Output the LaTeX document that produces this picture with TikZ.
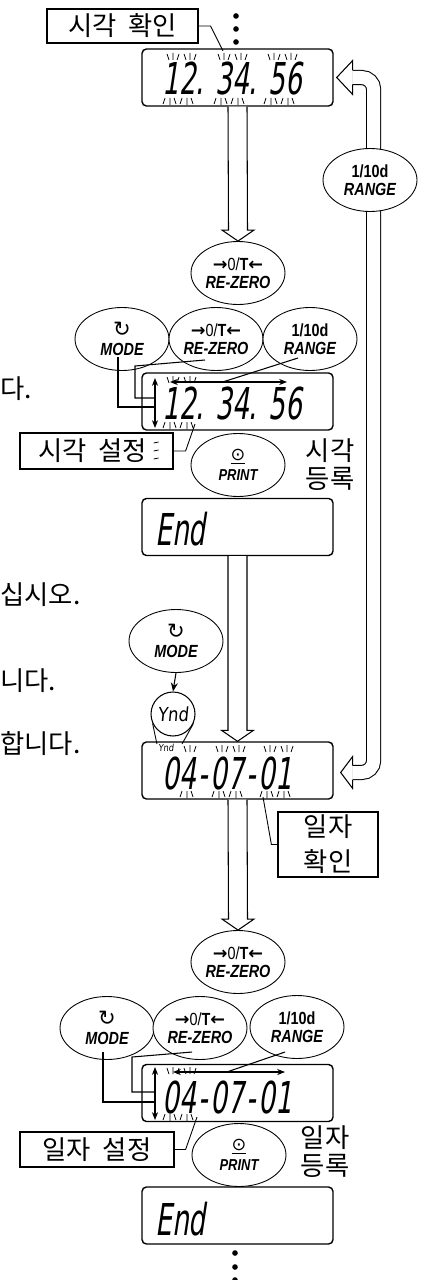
\documentclass[tikz,border=0pt]{standalone}
\usepackage{fontspec}
\setmainfont{Noto Sans CJK KR}
\newfontfamily\keyfont[FakeStretch=0.82]{Liberation Sans}
\newfontfamily\lcdfont[FakeSlant=0.15,FakeStretch=0.6]{DejaVu Sans}
\newfontfamily\lcdsmall[FakeSlant=0.1,FakeStretch=0.85]{DejaVu Sans}
\newfontfamily\symfont{DejaVu Sans}
\usetikzlibrary{shapes.geometric, arrows.meta, positioning, calc}
\tikzset{
    lcd/.style={
        draw,
        fill=white,
        rounded corners=2.5pt,
        line width=0.8pt,
        minimum width=3.82cm,
        minimum height=1.14cm,
        inner sep=0pt
    },
    lcdtext/.style={
        font=\lcdfont\fontsize{25}{25}\selectfont,
        inner sep=0pt,
        anchor=west
    },
    keybtn/.style={
        ellipse,
        draw,
        fill=white,
        line width=0.5pt,
        minimum width=1.88cm,
        minimum height=1.26cm,
        inner sep=0pt,
        align=center,
        font=\keyfont\fontsize{10}{10.5}\selectfont\bfseries\itshape
    },
    tagbox/.style={
        draw,
        line width=0.7pt,
        inner sep=0pt,
        align=center,
        font=\fontsize{15}{16}\selectfont
    },
    note/.style={
        inner sep=0pt,
        align=center,
        font=\fontsize{15}{16}\selectfont
    },
    cutoff/.style={
        inner sep=0pt,
        anchor=west,
        font=\fontsize{15}{16}\selectfont
    },
    wire/.style={line width=0.6pt},
    dblhead/.style={
        wire,
        {Stealth[length=4.5pt,width=3.5pt]}-{Stealth[length=4.5pt,width=3.5pt]}
    },
    leader/.style={line width=0.5pt},
    hollow/.style={line width=0.6pt, fill=white},
    hollowline/.style={
        line width=0.6pt,
        double=white,
        double distance=0.26cm,
        rounded corners=0.24cm
    },
    blink/.style={line width=0.45pt}
}
\newcommand\blinkmarks[3]{%
    \foreach \bx in {#1} {
        \draw[blink] (\bx-3,#2) -- ++(2,6) (\bx+3,#2-1) -- ++(0,7) (\bx+9,#2) -- ++(-2,6);
        \draw[blink] (\bx-7,#3) -- ++(2,-6) (\bx,#3+1) -- ++(0,-7) (\bx+6,#3) -- ++(-2,-6);
    }}
\newcommand\zerokey{{\upshape\fontsize{10}{10}\selectfont{\symfont\bfseries →}{\mdseries 0/}T{\symfont\bfseries ←}}\\RE-ZERO}
\newcommand\modekey{{\upshape\mdseries\symfont\fontsize{12}{11}\selectfont ↻}\\MODE}
\newcommand\rangekey{{\upshape 1/10d}\\RANGE}
\newcommand\printkey{{\upshape\mdseries\symfont\fontsize{10}{10}\selectfont\underline{⊙}}\\[1pt]{\fontsize{9}{9}\selectfont PRINT}}
\newcommand\wsp{\hspace{0.45em}}
\begin{document}
\begin{tikzpicture}[x=0.02cm, y=-0.02cm]
        \useasboundingbox (0,0) rectangle (427,1280);

        % Text of the neighbouring column
        \node[cutoff] (c1) at (0,389) {다.};
        \node[cutoff] (c2) at (0,595) {십시오.};
        \node[cutoff] (c3) at (0,681) {니다.};
        \node[cutoff] (c4) at (0,744) {합니다.};

        % Displays
        \node[lcd] (d1) at (237.5,77.5) {};
        \node[lcd] (d2) at (237.5,401.5) {};
        \node[lcd] (end1) at (237.5,527) {};
        \node[lcd] (d3) at (237.5,770.5) {};
        \node[lcd] (d4) at (237.5,1093) {};
        \node[lcd] (end2) at (237.5,1215.5) {};
        \node[lcdtext] (d1num) at (162,79) {12. 34. 56};
        \node[lcdtext] (d2num) at (162,404) {12. 34. 56};
        \node[lcdtext] (end1txt) at (155,529) {End};
        \node[lcdtext] (d3num) at (162,773.5) {04\kern1.5pt-\kern1.5pt07\kern1.5pt-\kern1.5pt01};
        \node[lcdtext] (d4num) at (162,1097.5) {04\kern1.5pt-\kern1.5pt07\kern1.5pt-\kern1.5pt01};
        \node[lcdtext] (end2txt) at (155,1219) {End};

        % Blinking digits
        \blinkmarks{170,187,221,238,271,288}{54}{104}
        \blinkmarks{170,187}{377}{428}
        \blinkmarks{187,219,236,267,284}{746}{797}
        \blinkmarks{170,187}{1068}{1120}

        % Continuation dots
        \foreach \dy in {16,29,42} \fill (236,\dy) circle (1.6pt);
        \foreach \dy in {1253,1267,1280} \fill (235,\dy) circle (1.6pt);

        % Return arrow (RANGE)
        \coordinate (r1) at ($(d1.east)+(3,0)$);
        \coordinate (r3) at ($(d3.east)+(7,2)$);
        \draw[hollowline] ($(r1)+(16,0)$) -- ($(r1)+(37,0)$) -- ($(r3)+(33,0)$) -- ($(r3)+(12,0)$);
        \draw[hollow] ($(r1)+(16,-7)$) -- ($(r1)+(16,-17)$) -- (r1) -- ($(r1)+(16,17)$) -- ($(r1)+(16,7)$);
        \draw[hollow] ($(r3)+(12,-7)$) -- ($(r3)+(12,-16)$) -- (r3) -- ($(r3)+(12,16)$) -- ($(r3)+(12,7)$);
        \node[keybtn] (rg1) at (370,180) {\rangekey};

        % Time check
        \node[tagbox, minimum width=3.02cm, minimum height=0.68cm] (tk) at (122.5,26) {시각\wsp 확인};
        \coordinate (tkend) at (223,51);
        \draw[leader] (tk.east) -- ++(12,0) -- (tkend);

        % Keys
        \node[keybtn] (rz1) at (238,273) {\zerokey};
        \node[keybtn] (md2) at (122,339) {\modekey};
        \node[keybtn] (rz2) at (216,339) {\zerokey};
        \node[keybtn] (rg2) at (310,339) {\rangekey};
        \node[keybtn] (pr1) at (238,465) {\printkey};

        % Time setting
        \coordinate (v2top) at (155,378);
        \coordinate (v2bot) at (155,428);
        \coordinate (h2left) at (170,382);
        \coordinate (h2right) at (287,382);
        \coordinate (m2) at (155,407);
        \coordinate (z2) at (155,398);
        \draw[dblhead] (v2top) -- (v2bot);
        \draw[dblhead] (h2left) -- (h2right);
        \draw[wire] ($(md2.center)+(-4,18)$) |- (m2);
        \draw[wire] ($(rz2.center)+(-11,21)$) -- ++(-70,6) |- (z2);
        \draw[wire] ($(rg2.center)+(-12,19)$) -- ($(h2left)!0.45!(h2right)$);

        \node[tagbox, minimum width=3.06cm, minimum height=0.72cm] (ts) at (96.5,451) {시각\wsp 설정\hspace{0.16cm}};
        \foreach \my in {-8,0,8} \draw[blink] ($(ts.east)+(-20,\my)$) -- ++(5,-1);
        \coordinate (tsend) at (195,424);
        \draw[leader] (ts.east) -- ++(12,0) -- (tsend);
        \node[note] (tr) at (330,465) {시각\\등록};

        % Date check
        \node[keybtn] (md3) at (176,641) {\modekey};
        \node[draw, circle, line width=0.6pt, minimum size=0.88cm, inner sep=0pt, font=\lcdsmall\fontsize{11}{11}\selectfont] (ynd) at (173,714) {Ynd};
        \node[inner sep=0pt, font=\lcdsmall\fontsize{5.5}{5.5}\selectfont] (ynds) at (166,748) {Ynd};
        \draw[wire, -{Stealth[length=5pt,width=4pt]}] (md3.south) -- (ynd.north);
        \draw[leader] (ynd.205) -- ($(ynds.north west)+(-1,0)$);
        \draw[leader] (ynd.335) -- ($(ynds.north east)+(8,0)$);

        \node[tagbox, minimum width=2.0cm, minimum height=1.3cm, font=\fontsize{15}{20}\selectfont] (dk) at (328,844.5) {일자\\확인};
        \coordinate (dkend) at (263,797);
        \draw[leader] (dk.west) -- ++(-6,0) -- (dkend);

        % Date setting
        \node[keybtn] (rz3) at (238,962) {\zerokey};
        \node[keybtn] (md4) at (107,1028) {\modekey};
        \node[keybtn] (rz4) at (200,1028) {\zerokey};
        \node[keybtn] (rg4) at (297,1027) {\rangekey};
        \node[keybtn] (pr2) at (239,1155) {\printkey};

        \coordinate (v4top) at (155,1067);
        \coordinate (v4bot) at (155,1120);
        \coordinate (h4left) at (173,1072);
        \coordinate (h4right) at (285,1072);
        \coordinate (m4) at (155,1102);
        \coordinate (z4) at (155,1092);
        \draw[dblhead] (v4top) -- (v4bot);
        \draw[dblhead] (h4left) -- (h4right);
        \draw[wire] ($(md4.center)+(-4,24)$) |- (m4);
        \draw[wire] ($(rz4.center)+(-8,24)$) -- ++(-60,5) |- (z4);
        \draw[wire] ($(rg4.center)+(-12,25)$) -- ($(h4left)!0.48!(h4right)$);

        \node[tagbox, minimum width=3.08cm, minimum height=0.7cm] (ds) at (97,1149.5) {일자\wsp 설정};
        \coordinate (dsend) at (197,1117);
        \draw[leader] (ds.east) -- ++(11,0) -- (dsend);
        \node[note] (dr) at (325,1152) {일자\\등록};

        % Block arrows between steps
        \foreach \a/\b in {d1/rz1, end1/d3, d3/rz3}
            \draw[hollow] ($(\a.south)+(-9.5,0)$) -- ($(\b.north)+(-9.5,-11)$) -- ++(-6.5,0) -- (\b.north)
                -- ++(16,-11) -- ++(-6.5,0) -- ($(\a.south)+(9.5,0)$);
    \end{tikzpicture}
\end{document}
